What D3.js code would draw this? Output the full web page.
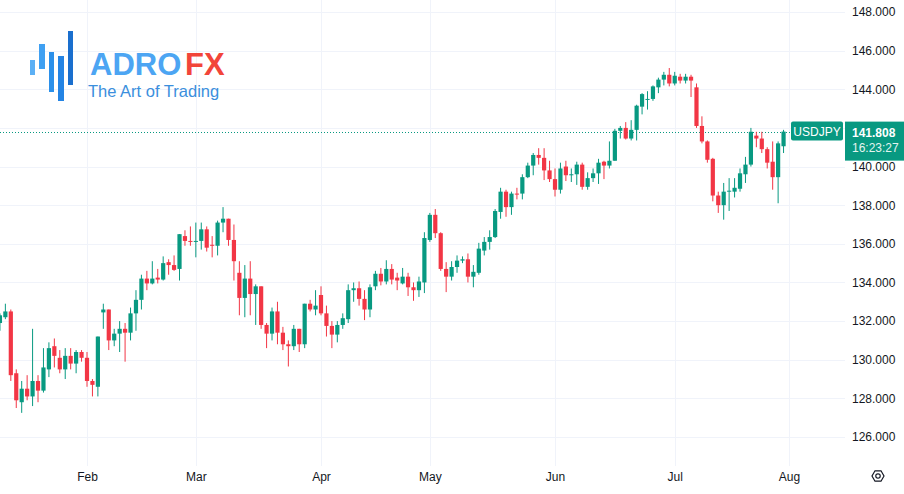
<!DOCTYPE html>
<html>
<head>
<meta charset="utf-8">
<script src="https://cdn.jsdelivr.net/npm/d3@7/dist/d3.min.js"></script>
<style>
  body { margin: 0; background: #ffffff; }
  svg { display: block; }
</style>
</head>
<body>
<script>
var w = 904;
var h = 494;

// daily bars, USDJPY 2023 (weekdays only)
var dates = [
  "2023-01-10","2023-01-11","2023-01-12","2023-01-13","2023-01-16","2023-01-17","2023-01-18","2023-01-19","2023-01-20","2023-01-23","2023-01-24","2023-01-25","2023-01-26","2023-01-27","2023-01-30","2023-01-31",
  "2023-02-01","2023-02-02","2023-02-03","2023-02-06","2023-02-07","2023-02-08","2023-02-09","2023-02-10","2023-02-13","2023-02-14","2023-02-15","2023-02-16","2023-02-17","2023-02-20","2023-02-21","2023-02-22","2023-02-23","2023-02-24","2023-02-27","2023-02-28",
  "2023-03-01","2023-03-02","2023-03-03","2023-03-06","2023-03-07","2023-03-08","2023-03-09","2023-03-10","2023-03-13","2023-03-14","2023-03-15","2023-03-16","2023-03-17","2023-03-20","2023-03-21","2023-03-22","2023-03-23","2023-03-24","2023-03-27","2023-03-28","2023-03-29","2023-03-30","2023-03-31",
  "2023-04-03","2023-04-04","2023-04-05","2023-04-06","2023-04-07","2023-04-10","2023-04-11","2023-04-12","2023-04-13","2023-04-14","2023-04-17","2023-04-18","2023-04-19","2023-04-20","2023-04-21","2023-04-24","2023-04-25","2023-04-26","2023-04-27","2023-04-28",
  "2023-05-01","2023-05-02","2023-05-03","2023-05-04","2023-05-05","2023-05-08","2023-05-09","2023-05-10","2023-05-11","2023-05-12","2023-05-15","2023-05-16","2023-05-17","2023-05-18","2023-05-19","2023-05-22","2023-05-23","2023-05-24","2023-05-25","2023-05-26","2023-05-29","2023-05-30","2023-05-31",
  "2023-06-01","2023-06-02","2023-06-05","2023-06-06","2023-06-07","2023-06-08","2023-06-09","2023-06-12","2023-06-13","2023-06-14","2023-06-15","2023-06-16","2023-06-19","2023-06-20","2023-06-21","2023-06-22","2023-06-23","2023-06-26","2023-06-27","2023-06-28","2023-06-29","2023-06-30",
  "2023-07-03","2023-07-04","2023-07-05","2023-07-06","2023-07-07","2023-07-10","2023-07-11","2023-07-12","2023-07-13","2023-07-14","2023-07-17","2023-07-18","2023-07-19","2023-07-20","2023-07-21","2023-07-24","2023-07-25","2023-07-26","2023-07-27","2023-07-28","2023-07-31"
];

var opens = [
  131.9,132.2,132.5,129.3,127.8,128.5,128.1,128.9,128.4,129.5,130.7,130.1,129.5,130.2,129.8,130.4,
  130.1,128.9,128.6,132.45,132.6,131.0,131.35,131.6,131.4,132.4,133.1,134.2,133.95,134.25,134.15,135.05,134.9,134.7,136.4,136.15,
  136.1,136.15,136.75,135.95,135.9,137.1,137.3,136.2,134.5,133.2,134.2,133.4,133.8,131.8,131.35,132.5,131.4,130.8,130.7,131.6,130.8,132.9,132.6,
  133.35,132.4,131.75,131.3,131.8,132.1,133.6,133.7,133.15,132.6,133.8,134.45,134.05,134.7,134.25,133.95,134.3,133.75,133.6,134.0,
  136.2,137.5,136.55,134.7,134.3,134.8,135.13,135.2,134.3,134.5,135.65,136.1,136.35,137.65,138.7,137.9,138.6,138.6,139.45,140.05,140.6,140.45,139.8,
  139.35,138.8,140.0,139.55,139.6,140.1,138.95,139.4,139.65,140.25,140.05,140.3,141.85,142.0,141.45,141.9,143.1,143.45,143.5,144.1,144.5,144.75,
  144.3,144.65,144.45,144.65,144.1,142.1,141.3,140.4,138.5,138.0,138.7,138.7,138.85,139.6,140.1,141.6,141.45,140.9,140.25,139.45,141.05
];

var highs = [
  132.4,132.9,132.6,129.5,128.9,129.2,131.6,129.2,130.6,130.9,131.1,130.5,130.6,130.6,130.5,130.5,
  130.4,129.0,131.2,132.9,132.6,131.6,132.0,131.9,132.7,133.6,134.4,134.6,135.1,134.7,135.35,135.2,135.4,136.5,136.7,136.9,
  137.1,137.1,136.9,136.4,137.2,137.9,137.3,137.0,135.1,134.9,135.1,133.9,133.8,131.9,132.7,133.0,131.7,131.0,131.8,131.6,132.9,133.1,133.6,
  133.8,132.8,132.0,132.0,132.4,133.9,134.0,134.05,133.6,133.9,134.6,134.75,135.15,134.95,134.5,134.75,134.5,134.0,134.3,136.6,
  137.6,137.8,136.6,135.05,135.1,135.4,135.35,135.5,134.9,136.05,136.35,136.7,137.8,138.9,138.8,138.7,138.9,139.6,140.2,140.7,140.95,140.95,140.3,
  139.9,140.2,140.3,139.9,140.25,140.2,139.7,139.9,140.4,140.3,141.3,141.95,142.1,142.3,142.4,143.2,143.8,143.9,144.2,144.6,144.9,145.1,
  144.9,144.8,144.8,144.75,144.3,142.6,141.35,140.45,138.7,139.15,139.4,139.4,139.9,140.5,142.0,141.8,141.8,141.0,141.3,141.3,141.9
];

var lows = [
  131.5,132.1,128.9,127.5,127.25,127.9,127.6,127.8,128.3,129.1,129.6,129.3,129.0,129.5,129.3,129.9,
  128.6,128.1,128.1,131.6,130.5,130.7,130.4,129.9,131.0,131.5,132.6,133.6,133.9,133.95,134.1,134.4,134.6,134.1,135.9,135.9,
  135.3,135.7,135.6,135.3,135.4,136.6,135.9,134.1,132.3,132.2,132.3,131.8,131.6,130.6,131.0,130.8,130.5,129.65,130.5,130.4,130.6,132.5,132.3,
  132.3,131.2,130.6,130.9,131.6,131.9,133.0,132.8,132.05,132.2,133.6,133.85,133.9,133.9,133.6,133.9,133.3,133.05,133.25,133.45,
  136.1,136.3,134.6,133.5,134.1,134.5,135.0,134.0,133.75,134.4,135.4,135.7,136.3,137.3,137.4,137.5,138.3,138.3,139.4,139.55,140.1,139.3,139.2,
  138.45,138.6,139.25,139.2,139.05,138.8,138.8,139.2,139.1,139.35,139.9,140.3,141.45,141.4,141.35,141.35,142.7,142.95,143.4,143.8,144.2,144.15,
  144.2,144.3,144.3,143.6,142.0,141.2,140.2,138.2,137.6,137.25,137.7,138.4,138.7,139.15,140.0,141.0,140.7,139.9,138.8,138.1,140.7
];

var closes = [
  132.3,132.5,129.2,127.9,128.5,128.1,128.9,128.4,129.6,130.6,130.2,129.5,130.2,129.8,130.4,130.1,
  128.9,128.7,131.2,132.6,131.0,131.35,131.6,131.4,132.4,133.1,134.2,133.95,134.2,134.15,135.0,134.9,134.65,136.5,136.15,136.1,
  136.15,136.75,135.8,135.9,137.1,137.3,136.2,135.1,133.2,134.2,133.4,133.8,131.8,131.35,132.5,131.4,130.8,130.7,131.6,130.8,132.9,132.6,132.8,
  132.4,131.75,131.3,131.8,132.15,133.6,133.7,133.15,132.6,133.75,134.45,134.05,134.7,134.15,134.1,134.3,133.75,133.6,134.05,136.3,
  137.5,136.55,134.7,134.3,134.8,135.13,135.2,134.3,134.55,135.75,136.1,136.35,137.7,138.7,137.9,138.6,138.55,139.45,140.05,140.6,140.45,139.8,139.35,
  138.8,139.9,139.55,139.6,140.1,138.95,139.4,139.65,140.2,140.05,140.3,141.85,142.0,141.45,141.9,143.15,143.75,143.5,144.15,144.5,144.75,144.3,
  144.7,144.45,144.65,144.45,142.1,141.3,140.35,138.5,138.0,138.7,138.75,138.9,139.65,140.1,141.8,141.45,140.9,140.2,139.45,141.2,141.808
];

// the next (not yet printed) session, so the Aug tick has a slot
var futureDates = ["2023-08-01"];

var monthTicks = ["2023-02-01","2023-03-01","2023-04-03","2023-05-01","2023-06-01","2023-07-03","2023-08-01"];
var monthLabels = ["Feb","Mar","Apr","May","Jun","Jul","Aug"];
var priceTicks = [126,128,130,132,134,136,138,140,142,144,146,148];

var symbol = "USDJPY";
var lastPrice = 141.808;
var countdown = "16:23:27";

var up = "#089981";
var down = "#f23645";
var grid = "#f0f3fa";
var textColor = "#131722";
var font = "'Liberation Sans', Arial, sans-serif";

var plotRight = 845;
var plotBottom = 466;

var slots = dates.concat(futureDates);

var bars = dates.map(function(d, i) {
  return { date: d, i: i, o: opens[i], hi: highs[i], lo: lows[i], c: closes[i] };
});

var x = d3.scaleLinear()
  .domain([slots.indexOf("2023-02-01"), slots.indexOf("2023-08-01")])
  .range([87, 789]);

var y = d3.scaleLinear()
  .domain([126, 148])
  .range([437, 12]);

var svg = d3.select("body")
  .append("svg")
  .attr("width", w)
  .attr("height", h);

// grid
svg.append("g")
  .selectAll("line")
  .data(priceTicks)
  .enter()
  .append("line")
  .attr("x1", 0)
  .attr("x2", plotRight)
  .attr("y1", function(d) { return Math.round(y(d)) + 0.5; })
  .attr("y2", function(d) { return Math.round(y(d)) + 0.5; })
  .attr("stroke", grid);

svg.append("g")
  .selectAll("line")
  .data(monthTicks)
  .enter()
  .append("line")
  .attr("x1", function(d) { return Math.round(x(slots.indexOf(d))) + 0.5; })
  .attr("x2", function(d) { return Math.round(x(slots.indexOf(d))) + 0.5; })
  .attr("y1", 0)
  .attr("y2", plotBottom)
  .attr("stroke", grid);

// logo
var logo = svg.append("g");
var logoBars = [
  { x: 30, y: 60, w: 5, h: 15, c: "#5cb0f5" },
  { x: 39, y: 44, w: 6, h: 25, c: "#3fa0f2" },
  { x: 49, y: 52, w: 5, h: 40, c: "#2b90ea" },
  { x: 58, y: 56, w: 6, h: 45, c: "#2484e4" },
  { x: 68, y: 31, w: 5, h: 54, c: "#1a6fce" }
];
logo.selectAll("rect")
  .data(logoBars)
  .enter()
  .append("rect")
  .attr("x", function(d) { return d.x; })
  .attr("y", function(d) { return d.y; })
  .attr("width", function(d) { return d.w; })
  .attr("height", function(d) { return d.h; })
  .attr("fill", function(d) { return d.c; });

logo.append("text")
  .attr("x", 90)
  .attr("y", 74.5)
  .attr("font-family", font)
  .attr("font-weight", "bold")
  .attr("font-size", "31px")
  .attr("fill", "#4ca5f3")
  .text("ADRO");

logo.append("text")
  .attr("x", 185)
  .attr("y", 74.5)
  .attr("font-family", font)
  .attr("font-weight", "bold")
  .attr("font-size", "31px")
  .attr("fill", "#f2453a")
  .text("FX");

logo.append("text")
  .attr("x", 88)
  .attr("y", 96.5)
  .attr("font-family", font)
  .attr("font-size", "16.5px")
  .attr("fill", "#3b8fdd")
  .text("The Art of Trading");

// last price line
svg.append("line")
  .attr("x1", 0)
  .attr("x2", 791)
  .attr("y1", Math.round(y(lastPrice)) + 0.5)
  .attr("y2", Math.round(y(lastPrice)) + 0.5)
  .attr("stroke", up)
  .attr("stroke-dasharray", "1,2");

// candles: wicks then bodies
var candles = svg.append("g");

candles.selectAll("line")
  .data(bars)
  .enter()
  .append("line")
  .attr("x1", function(d) { return x(d.i); })
  .attr("x2", function(d) { return x(d.i); })
  .attr("y1", function(d) { return y(d.hi); })
  .attr("y2", function(d) { return y(d.lo); })
  .attr("stroke", function(d) { return d.c >= d.o ? up : down; })
  .attr("stroke-width", 1);

candles.selectAll("rect")
  .data(bars)
  .enter()
  .append("rect")
  .attr("x", function(d) { return x(d.i) - 2.1; })
  .attr("width", 4.2)
  .attr("y", function(d) { return y(Math.max(d.o, d.c)); })
  .attr("height", function(d) { return Math.max(1, Math.abs(y(d.o) - y(d.c))); })
  .attr("fill", function(d) { return d.c >= d.o ? up : down; });

// price axis (labels hidden behind the last-price tag are dropped)
var yAxis = d3.axisRight(y)
  .tickValues(priceTicks.filter(function(d) { return Math.abs(y(d) - y(lastPrice)) > 24; }))
  .tickFormat(d3.format(".3f"))
  .tickSize(0)
  .tickPadding(7);

svg.append("g")
  .attr("transform", "translate(" + plotRight + ",0)")
  .call(yAxis)
  .call(function(g) { g.select(".domain").remove(); })
  .selectAll("text")
  .attr("font-family", font)
  .attr("font-size", "12px")
  .attr("fill", textColor);

// time axis
var xAxis = d3.axisBottom(x)
  .tickValues(monthTicks.map(function(d) { return slots.indexOf(d); }))
  .tickFormat(function(d, i) { return monthLabels[i]; })
  .tickSize(0)
  .tickPadding(6);

svg.append("g")
  .attr("transform", "translate(0," + plotBottom + ")")
  .call(xAxis)
  .call(function(g) { g.select(".domain").remove(); })
  .selectAll("text")
  .attr("font-family", font)
  .attr("font-size", "12px")
  .attr("fill", textColor);

// symbol + price labels
var yLast = y(lastPrice);

svg.append("rect")
  .attr("x", 791)
  .attr("y", yLast - 10)
  .attr("width", 52)
  .attr("height", 19)
  .attr("rx", 2)
  .attr("fill", up);

svg.append("text")
  .attr("x", 817)
  .attr("y", yLast + 4)
  .attr("text-anchor", "middle")
  .attr("font-family", font)
  .attr("font-size", "12px")
  .attr("fill", "#ffffff")
  .text(symbol);

svg.append("rect")
  .attr("x", plotRight)
  .attr("y", yLast - 10)
  .attr("width", w - plotRight)
  .attr("height", 39)
  .attr("fill", up);

svg.append("text")
  .attr("x", 852)
  .attr("y", yLast + 5)
  .attr("font-family", font)
  .attr("font-size", "12px")
  .attr("font-weight", "bold")
  .attr("fill", "#ffffff")
  .text(d3.format(".3f")(lastPrice));

svg.append("text")
  .attr("x", 852)
  .attr("y", yLast + 20)
  .attr("font-family", font)
  .attr("font-size", "12px")
  .attr("fill", "#e3f4f0")
  .text(countdown);

// settings glyph, bottom right
var gear = svg.append("g").attr("transform", "translate(878,476)");
var hex = d3.range(6).map(function(k) {
  var a = Math.PI / 3 * k;
  return [6 * Math.cos(a), 6 * Math.sin(a)];
});
gear.append("path")
  .attr("d", d3.line()(hex) + "Z")
  .attr("fill", "none")
  .attr("stroke", textColor)
  .attr("stroke-width", 1.2);
gear.append("circle")
  .attr("r", 2.2)
  .attr("fill", "none")
  .attr("stroke", textColor)
  .attr("stroke-width", 1.2);
</script>
</body>
</html>
